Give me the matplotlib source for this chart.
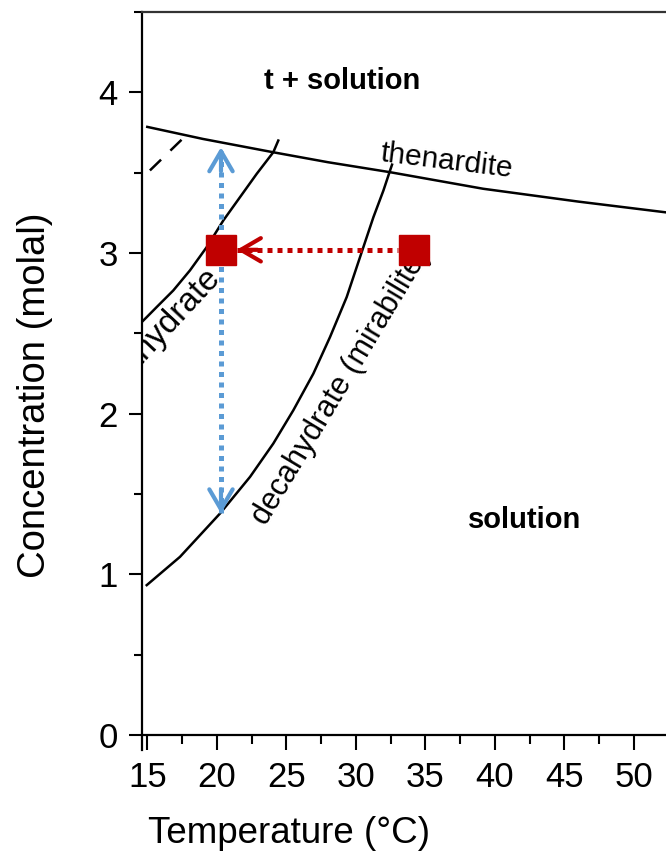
import numpy as np
import matplotlib
matplotlib.use("Agg")
import matplotlib.pyplot as plt
from matplotlib.ticker import MultipleLocator

plt.rcParams['font.family'] = ['Liberation Sans', 'DejaVu Sans']

# phase boundaries (temperature degC, molality)
thenardite_t = [15.0, 19.0, 24.06, 28.0, 32.46, 39.15, 46.0, 52.3]
thenardite_c = [3.785, 3.71, 3.627, 3.565, 3.503, 3.40, 3.32, 3.253]

hepta_t = [14.6, 14.96, 15.68, 16.87, 18.07, 19.3, 20.47, 21.67, 22.87, 24.06, 24.42]
hepta_c = [2.57, 2.601, 2.664, 2.767, 2.892, 3.04, 3.203, 3.348, 3.493, 3.627, 3.70]

deca_t = [14.96, 17.35, 20.23, 22.39, 24.06, 25.50, 26.94, 28.14, 29.34,
          30.30, 31.26, 31.98, 32.46, 32.60]
deca_c = [0.933, 1.109, 1.379, 1.607, 1.814, 2.021, 2.249, 2.477, 2.726,
          2.975, 3.223, 3.389, 3.514, 3.55]

meta_t = [15.19, 17.93]
meta_c = [3.514, 3.744]

# experiment markers and paths
square_t = [20.27, 34.15]
square_c = [3.02, 3.02]
cool_t = [21.43, 33.05]          # red arrow, tip first
cool_c = [3.02, 3.02]
blue_t = [20.30, 20.30]          # blue double arrow
blue_c = [1.379, 3.659]

red = '#C00000'
blue = '#5B9BD5'

fig = plt.figure(figsize=(6.66, 8.55), dpi=100)
ax = fig.add_axes([142 / 666, 105 / 855, 524 / 666, 738 / 855])

ax.plot(thenardite_t, thenardite_c, color='black', lw=1.8)
ax.plot(hepta_t, hepta_c, color='black', lw=1.8)
ax.plot(deca_t, deca_c, color='black', lw=1.8)
ax.plot(meta_t, meta_c, color='black', lw=1.8, linestyle=(0, (6.2, 5.2)))

# dotted paths
ax.plot(blue_t, blue_c, color=blue, lw=3.6, linestyle=(0, (1, 1.1)), zorder=3)
ax.plot(cool_t, cool_c, color=red, lw=3.6, linestyle=(0, (1, 1)), zorder=3)

head = dict(arrowstyle='->,head_length=0.72,head_width=0.42', lw=3,
            mutation_scale=20, shrinkA=0, shrinkB=0)
ax.annotate('', xy=(blue_t[1], blue_c[1]), xytext=(blue_t[1], blue_c[1] - 0.15),
            arrowprops=dict(color=blue, **head), zorder=4)
ax.annotate('', xy=(blue_t[0], blue_c[0]), xytext=(blue_t[0], blue_c[0] + 0.15),
            arrowprops=dict(color=blue, **head), zorder=4)
ax.annotate('', xy=(cool_t[0], cool_c[0]), xytext=(cool_t[0] + 1.5, cool_c[0]),
            arrowprops=dict(color=red, **head), zorder=4)

ax.plot(square_t, square_c, linestyle='none', marker='s', markersize=22,
        color=red, zorder=5)

# labels in the diagram
ax.text(29.0, 4.07, 't + solution', fontsize=21, fontweight='bold',
        ha='center', va='center')
ax.text(42.1, 1.337, 'solution', fontsize=21, fontweight='bold',
        ha='center', va='center')
ax.text(36.5, 3.57, 'thenardite', fontsize=21.5, rotation=-7,
        ha='center', va='center', rotation_mode='anchor')
ax.text(28.93, 2.174, 'decahydrate (mirabilite)', fontsize=22, rotation=59,
        ha='center', va='center', rotation_mode='anchor', zorder=2)
ax.text(19.87, 2.88, 'heptahydrate', fontsize=24, rotation=47,
        ha='right', va='center', rotation_mode='anchor', clip_on=True)

ax.set_xlim(14.62, 52.3)
ax.set_ylim(-0.093, 4.5)

ax.spines['right'].set_visible(False)
ax.spines['bottom'].set_position(('data', 0))
for s in ['left', 'bottom']:
    ax.spines[s].set_linewidth(1.6)
ax.spines['top'].set_linewidth(1.6)
ax.spines['top'].set_color('#333333')

ax.xaxis.set_major_locator(MultipleLocator(5))
ax.xaxis.set_minor_locator(MultipleLocator(2.5))
ax.yaxis.set_major_locator(MultipleLocator(1))
ax.yaxis.set_minor_locator(MultipleLocator(0.5))
ax.tick_params(which='both', direction='out', width=1.5, labelsize=25, pad=8)
ax.tick_params(axis='x', which='major', length=10.5)
ax.tick_params(axis='x', which='minor', length=6.5)
ax.tick_params(axis='y', which='major', length=9.5)
ax.tick_params(axis='y', which='minor', length=6)

ax.set_xlabel('Temperature (°C)', fontsize=26.5)
ax.set_ylabel('Concentration (molal)', fontsize=27.5)
ax.xaxis.set_label_coords(0.2805, -0.1125)
ax.xaxis.label.set_va('center')
ax.yaxis.set_label_coords(-0.204, 0.481)
ax.yaxis.label.set_va('center')

fig.savefig('out.png', dpi=100)
